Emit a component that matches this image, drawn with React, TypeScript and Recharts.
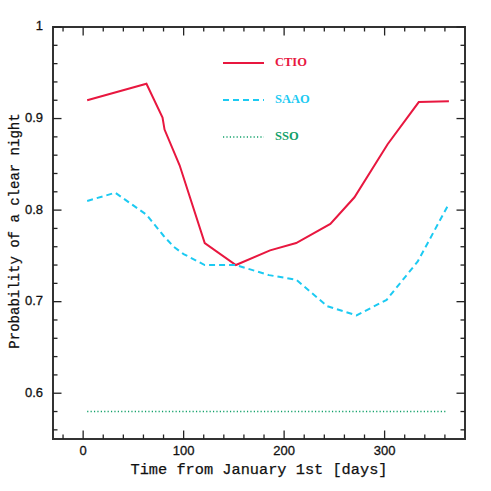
import { LineChart, Line, XAxis, YAxis, ReferenceArea } from 'recharts';

const ctioDays = [4, 63, 79, 81, 96, 121, 152, 186, 212, 246, 270, 303, 334, 364];
const ctioProb = [0.92, 0.938, 0.901, 0.888, 0.849, 0.764, 0.74, 0.756, 0.764, 0.785, 0.814, 0.872, 0.918, 0.919];

const saaoDays = [4, 32, 63, 80, 90, 100, 121, 152, 185, 212, 243, 272, 302, 333, 364];
const saaoProb = [0.81, 0.819, 0.795, 0.772, 0.76, 0.752, 0.74, 0.74, 0.729, 0.724, 0.695, 0.685, 0.702, 0.744, 0.807];

const ssoDays = [4, 362];
const ssoProb = [0.58, 0.58];

const seriesNames = ['CTIO', 'SAAO', 'SSO'];
const seriesColors = ['#e8173f', '#1ccaf2', '#10a068'];
const seriesDash = ['', '6 4', '1.2 2.2'];

const xTicks = [-20, 0, 20, 40, 60, 80, 100, 120, 140, 160, 180, 200, 220, 240, 260, 280, 300, 320, 340, 360];
const yTicks = [0.56, 0.58, 0.6, 0.62, 0.64, 0.66, 0.68, 0.7, 0.72, 0.74, 0.76, 0.78, 0.8, 0.82, 0.84, 0.86, 0.88, 0.9, 0.92, 0.94, 0.96, 0.98, 1];

const zip = (days: number[], probs: number[]) => days.map((d, i) => ({ d, v: probs[i] }));
const ctio = zip(ctioDays, ctioProb);
const saao = zip(saaoDays, saaoProb);
const sso = zip(ssoDays, ssoProb);

// plot box edges (follow from the chart margins + axis sizes below)
const TOP = 27;
const BOTTOM = 439;
const LEFT = 53;
const RIGHT = 465;

const tickColor = '#222';
const labelFont = '"Liberation Sans", Arial, sans-serif';
const titleFont = '"Liberation Mono", monospace';

const isMajorX = (v: number) => v % 100 === 0;
const isMajorY = (v: number) => Math.abs(v * 10 - Math.round(v * 10)) < 1e-6;

const XTick = ({ x, payload, top }: any) => {
  const major = isMajorX(payload.value);
  const len = major ? 8.5 : 4.5;
  const edge = top ? TOP : BOTTOM;
  const dir = top ? 1 : -1;
  return (
    <g>
      <line x1={x} x2={x} y1={edge} y2={edge + dir * len} stroke={tickColor} strokeWidth={1.3} />
      {!top && major && (
        <text x={x} y={edge + 13} textAnchor="middle" dominantBaseline="middle" fontSize={13} fontFamily={labelFont} fill="#111" stroke="#111" strokeWidth={0.3}>
          {payload.value}
        </text>
      )}
    </g>
  );
};

const YTick = ({ y, payload, right }: any) => {
  const major = isMajorY(payload.value);
  const len = major ? 8.5 : 4.5;
  const edge = right ? RIGHT : LEFT;
  const dir = right ? -1 : 1;
  const label = payload.value === 1 ? '1' : payload.value.toFixed(1);
  return (
    <g>
      <line x1={edge} x2={edge + dir * len} y1={y} y2={y} stroke={tickColor} strokeWidth={1.3} />
      {!right && major && (
        <text x={edge - 10} y={y} textAnchor="end" dominantBaseline="middle" fontSize={13} fontFamily={labelFont} fill="#111" stroke="#111" strokeWidth={0.3}>
          {label}
        </text>
      )}
    </g>
  );
};

const LegendBox = () => (
  <svg width={110} height={100} style={{ position: 'absolute', left: 220, top: 50 }}>
    {seriesNames.map((name, i) => (
      <g key={name}>
        <line x1={3} x2={44} y1={13 + i * 37} y2={13 + i * 37} stroke={seriesColors[i]} strokeWidth={i === 2 ? 1.6 : 2} strokeDasharray={seriesDash[i]} />
        <text x={55} y={13 + i * 37} dominantBaseline="middle" fontSize={12.5} fontWeight="bold" fontFamily='"Liberation Serif", serif' fill={seriesColors[i]}>
          {name}
        </text>
      </g>
    ))}
  </svg>
);

export default function App() {
  return (
    <div style={{ position: 'absolute', left: 0, top: 0, width: 491, height: 491, background: '#fff' }}>
      <LineChart width={491} height={491} margin={{ top: 17, right: 16, bottom: 22, left: 13 }}>
        <XAxis xAxisId="b" type="number" dataKey="d" domain={[-30, 380]} ticks={xTicks} allowDataOverflow height={30} tickLine={false} axisLine={false} tick={<XTick />} interval={0} />
        <XAxis xAxisId="t" orientation="top" type="number" dataKey="d" domain={[-30, 380]} ticks={xTicks} allowDataOverflow height={10} tickLine={false} axisLine={false} tick={<XTick top />} interval={0} />
        <YAxis yAxisId="l" type="number" domain={[0.55, 1]} ticks={yTicks} allowDataOverflow width={40} tickLine={false} axisLine={false} tick={<YTick />} interval={0} />
        <YAxis yAxisId="r" orientation="right" type="number" domain={[0.55, 1]} ticks={yTicks} allowDataOverflow width={10} tickLine={false} axisLine={false} tick={<YTick right />} interval={0} />
        <ReferenceArea xAxisId="b" yAxisId="l" x1={-30} x2={380} y1={0.55} y2={1} fill="none" stroke="#333" strokeWidth={2} ifOverflow="extendDomain" />
        <Line xAxisId="b" yAxisId="l" data={ctio} dataKey="v" type="linear" stroke={seriesColors[0]} strokeWidth={2} dot={false} isAnimationActive={false} />
        <Line xAxisId="b" yAxisId="l" data={saao} dataKey="v" type="linear" stroke={seriesColors[1]} strokeWidth={2} strokeDasharray={seriesDash[1]} dot={false} isAnimationActive={false} />
        <Line xAxisId="b" yAxisId="l" data={sso} dataKey="v" type="linear" stroke={seriesColors[2]} strokeWidth={1.6} strokeDasharray={seriesDash[2]} dot={false} isAnimationActive={false} />
        <text x={259} y={470} textAnchor="middle" dominantBaseline="middle" fontSize={15.3} fontFamily={titleFont} fill="#111" stroke="#111" strokeWidth={0.25}>
          Time from January 1st [days]
        </text>
        <text x={15} y={231} transform="rotate(-90 15 231)" textAnchor="middle" dominantBaseline="middle" fontSize={14} fontFamily={titleFont} fill="#111" stroke="#111" strokeWidth={0.25}>
          Probability of a clear night
        </text>
      </LineChart>
      <LegendBox />
    </div>
  );
}
